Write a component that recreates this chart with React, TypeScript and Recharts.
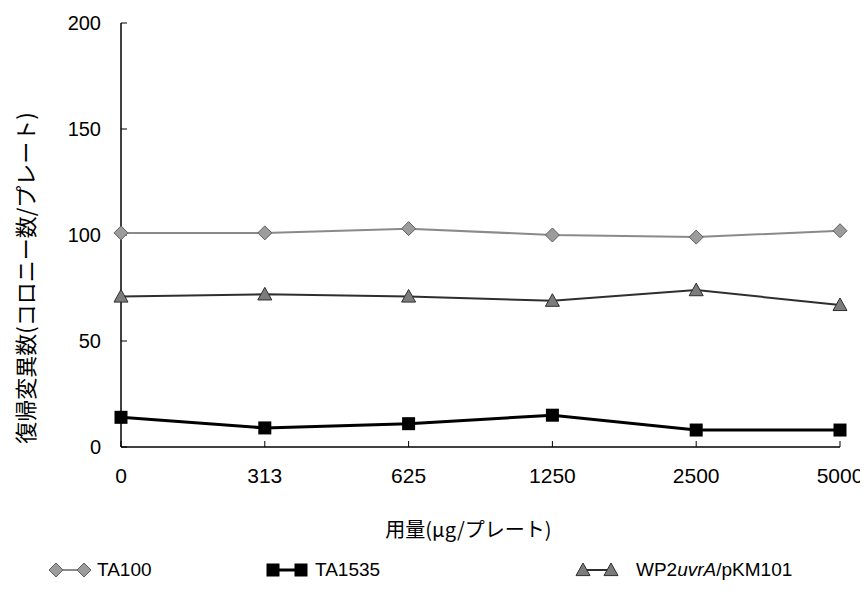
import React from 'react';
import { LineChart, Line, XAxis, YAxis, Legend, Label } from 'recharts';

// 用量 (µg/plate)
const doses = ['0', '313', '625', '1250', '2500', '5000'];

// revertant colonies per plate
const ta100 = [101, 101, 103, 100, 99, 102];
const ta1535 = [14, 9, 11, 15, 8, 8];
const wp2uvrA = [71, 72, 71, 69, 74, 67];

const yTicks = [0, 50, 100, 150, 200];

const data = doses.map((dose, i) => ({
  dose,
  ta100: ta100[i],
  ta1535: ta1535[i],
  wp2: wp2uvrA[i],
}));

const NUM_FONT = "'Liberation Sans', Arial, sans-serif";
const JP_FONT = "'Noto Sans CJK JP', 'Liberation Sans', sans-serif";

const Diamond = ({ cx, cy, r = 7 }: any) => (
  <path
    d={`M${cx},${cy - r}L${cx + r},${cy}L${cx},${cy + r}L${cx - r},${cy}Z`}
    fill="#9c9c9c"
    stroke="#5e5e5e"
    strokeWidth={1}
  />
);

const Square = ({ cx, cy, r = 6.5 }: any) => (
  <rect x={cx - r} y={cy - r} width={r * 2} height={r * 2} fill="#000" />
);

const Triangle = ({ cx, cy, r = 7 }: any) => (
  <path
    d={`M${cx},${cy - r}L${cx + r},${cy + r * 0.8}L${cx - r},${cy + r * 0.8}Z`}
    fill="#7c7c7c"
    stroke="#2e2e2e"
    strokeWidth={1}
  />
);

const LegendIcon = ({ Marker, stroke, strokeWidth }: any) => (
  <svg width={44} height={18} style={{ display: 'block' }}>
    <line x1={8} y1={9} x2={36} y2={9} stroke={stroke} strokeWidth={strokeWidth} />
    <Marker cx={8} cy={9} />
    <Marker cx={36} cy={9} />
  </svg>
);

const legendItems = [
  { key: 'ta100', left: 40, gap: 5, Marker: Diamond, stroke: '#8a8a8a', strokeWidth: 2, label: <>TA100</> },
  { key: 'ta1535', left: 257, gap: 6, Marker: Square, stroke: '#000', strokeWidth: 3, label: <>TA1535</> },
  {
    key: 'wp2',
    left: 567,
    gap: 17,
    Marker: Triangle,
    stroke: '#2e2e2e',
    strokeWidth: 2,
    label: (
      <>
        WP2<i>uvrA</i>/pKM101
      </>
    ),
  },
];

const renderLegend = () => (
  <div style={{ position: 'relative', width: 852, height: 30 }}>
    {legendItems.map((item) => (
      <div
        key={item.key}
        style={{
          position: 'absolute',
          left: item.left,
          top: 0,
          display: 'flex',
          alignItems: 'center',
          height: 30,
          gap: item.gap,
          fontFamily: NUM_FONT,
          fontSize: 19,
          color: '#000',
          whiteSpace: 'nowrap',
        }}
      >
        <LegendIcon Marker={item.Marker} stroke={item.stroke} strokeWidth={item.strokeWidth} />
        <span>{item.label}</span>
      </div>
    ))}
  </div>
);

const App = () => {
  return (
    <div>
      <style>{'.recharts-surface { overflow: visible; }'}</style>
      <LineChart
        width={852}
        height={593}
        data={data}
        margin={{ top: 15, right: 20, bottom: 5, left: 33 }}
      >
        <XAxis
          dataKey="dose"
          height={149}
          axisLine={{ stroke: '#000', strokeWidth: 1.5 }}
          tickLine={{ stroke: '#000', strokeWidth: 1 }}
          tickSize={-6}
          tickMargin={27}
          tick={{ fill: '#000', fontSize: 21, fontFamily: NUM_FONT }}
          interval={0}
        >
          <Label
            content={({ viewBox }: any) => (
              <text
                x={viewBox.x + viewBox.width / 2 - 12}
                y={viewBox.y + 81}
                textAnchor="middle"
                dominantBaseline="central"
                fill="#000"
                fontSize={20}
                fontFamily={JP_FONT}
              >
                用量(μg/プレート)
              </text>
            )}
          />
        </XAxis>
        <YAxis
          width={80}
          domain={[0, 200]}
          ticks={yTicks}
          axisLine={{ stroke: '#000', strokeWidth: 1.5 }}
          tickLine={{ stroke: '#000', strokeWidth: 1 }}
          tickSize={-6}
          tickMargin={26}
          tick={{ fill: '#000', fontSize: 20, fontFamily: NUM_FONT }}
        >
          <Label
            content={({ viewBox }: any) => {
              const x = viewBox.x - 17;
              const y = viewBox.y + viewBox.height / 2 + 43;
              return (
                <text
                  x={x}
                  y={y}
                  transform={`rotate(-90 ${x} ${y})`}
                  textAnchor="middle"
                  dominantBaseline="central"
                  fill="#000"
                  fontSize={22}
                  fontFamily={JP_FONT}
                >
                  復帰変異数(コロニー数/プレート)
                </text>
              );
            }}
          />
        </YAxis>
        <Legend
          layout="horizontal"
          verticalAlign="middle"
          align="center"
          wrapperStyle={{ top: 547, left: 0, width: 852, height: 30 }}
          content={renderLegend}
        />
        <Line
          dataKey="ta100"
          name="TA100"
          stroke="#8a8a8a"
          strokeWidth={2}
          isAnimationActive={false}
          dot={(p: any) => <Diamond key={`ta100-${p.index}`} cx={p.cx} cy={p.cy} />}
        />
        <Line
          dataKey="wp2"
          name="WP2uvrA/pKM101"
          stroke="#2e2e2e"
          strokeWidth={2}
          isAnimationActive={false}
          dot={(p: any) => <Triangle key={`wp2-${p.index}`} cx={p.cx} cy={p.cy} />}
        />
        <Line
          dataKey="ta1535"
          name="TA1535"
          stroke="#000"
          strokeWidth={3}
          isAnimationActive={false}
          dot={(p: any) => <Square key={`ta1535-${p.index}`} cx={p.cx} cy={p.cy} />}
        />
      </LineChart>
    </div>
  );
};

export default App;
